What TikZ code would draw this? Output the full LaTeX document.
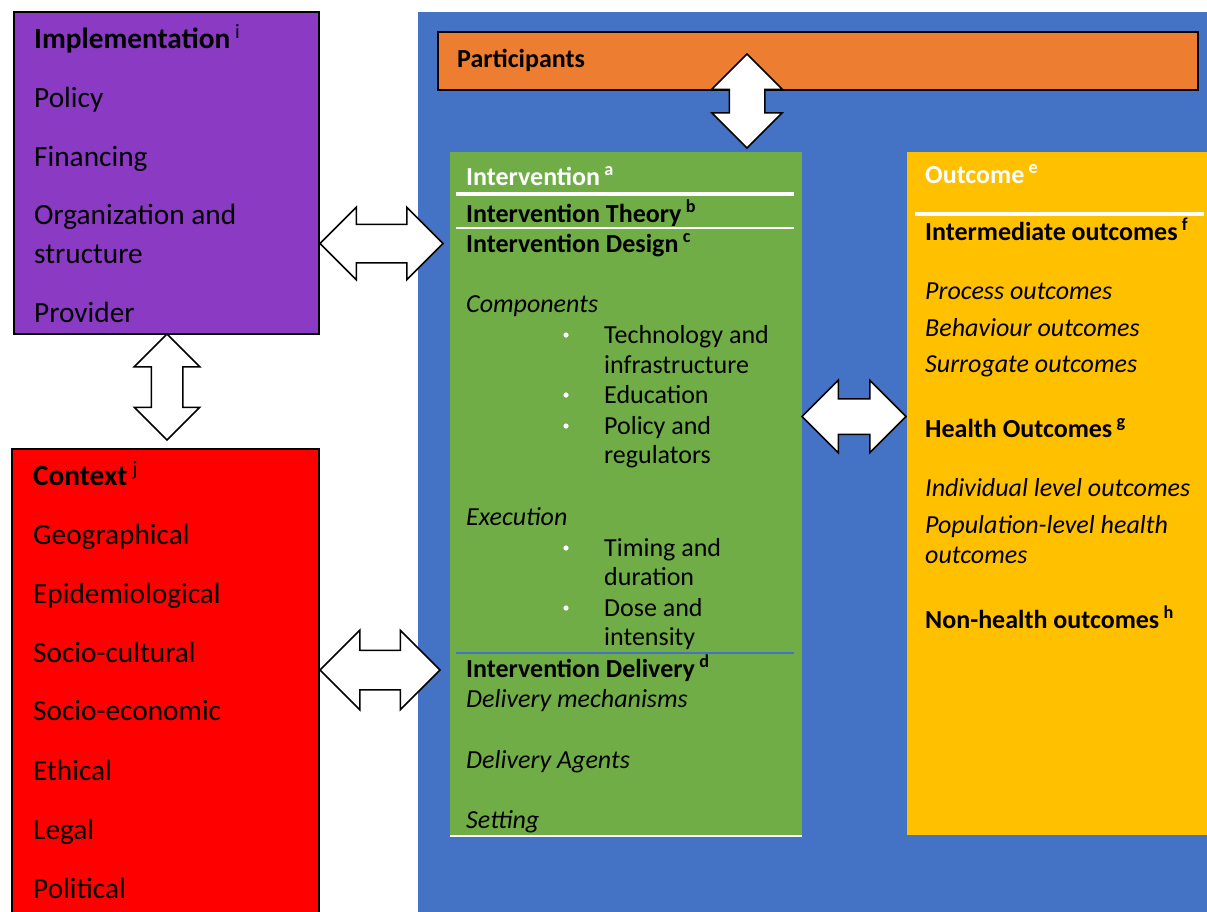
\documentclass[tikz,border=0pt]{standalone}
\usepackage{fontspec}
\setmainfont{Carlito}
\usetikzlibrary{shapes.arrows}

\definecolor{implpurple}{RGB}{139,58,196}
\definecolor{ctxred}{RGB}{255,0,0}
\definecolor{mainblue}{RGB}{68,114,196}
\definecolor{partorange}{RGB}{237,125,49}
\definecolor{intgreen}{RGB}{112,173,71}
\definecolor{outyellow}{RGB}{255,192,0}

\tikzset{
    panel/.style={draw=black, line width=2pt, anchor=north west, inner sep=0pt},
    plain/.style={anchor=north west, inner sep=0pt},
    big/.style={anchor=base west, inner sep=0pt, font=\fontsize{29.3}{34}\selectfont},
    small/.style={anchor=base west, inner sep=0pt, font=\fontsize{26}{30}\selectfont},
    twoway/.style={double arrow, draw=black, fill=white, line width=1.5pt, inner xsep=0pt, double arrow tip angle=90}
}

\begin{document}
\begin{tikzpicture}[x=1pt,y=-1pt]
    \useasboundingbox (0,0) rectangle (1207,911);
    %blue frame and the boxes
    \node[plain, fill=mainblue, minimum width=792, minimum height=910] (frame) at (418,12) {};
    \node[panel, fill=implpurple, minimum width=305, minimum height=322] (impl) at (13,11) {};
    \node[panel, fill=ctxred, minimum width=307, minimum height=480] (ctx) at (11,448) {};
    \node[panel, fill=partorange, minimum width=760, minimum height=58] (part) at (437,31) {};
    \node[plain, fill=intgreen, minimum width=352, minimum height=684] (interv) at (450,152) {};
    \node[plain, fill=outyellow, minimum width=305, minimum height=683] (outc) at (907,152) {};

    %rules inside intervention and outcome
    \draw[white, line width=4.5pt] (456,194) -- (794,194);
    \draw[white, line width=1.2pt] (456,228) -- (794,228);
    \draw[mainblue, line width=1.2pt] (456,653) -- (794,653);
    \draw[white, line width=1.5pt] (450,836) -- (802,836);
    \draw[white, line width=4pt] (915,214) -- (1204,214);

    %implementation
    \node[big] (implhead) at (34,48) {\bfseries Implementation\,\textsuperscript{\normalfont i}};
    \foreach \y/\t [count=\i] in {107/Policy, 166/Financing, 224/Organization and, 263/structure, 322/Provider}
        \node[big] (impl\i) at (34,\y) {\t};

    %context
    \node[big] (ctxhead) at (33,485) {\bfseries Context\,\textsuperscript{\normalfont j}};
    \foreach \y/\t [count=\i] in {544/Geographical, 603/Epidemiological, 662/Socio-cultural, 720/Socio-economic, 780/Ethical, 839/Legal, 898/Political}
        \node[big] (ctx\i) at (33,\y) {\t};

    %participants
    \node[small] (parthead) at (457,67) {\bfseries Participants};

    %intervention
    \node[small, text=white] (intervhead) at (466,185) {\bfseries Intervention\,\textsuperscript{a}};
    \node[small] (theory) at (466,222) {\bfseries Intervention Theory\,\textsuperscript{b}};
    \node[small] (design) at (466,252) {\bfseries Intervention Design\,\textsuperscript{c}};
    \node[small] (comp) at (466,312) {\itshape Components};
    \node[small] (exec) at (466,525) {\itshape Execution};
    \foreach \y/\t [count=\i] in {343/Technology and, 373/infrastructure, 403/Education, 434/Policy and, 463/regulators, 556/Timing and, 585/duration, 616/Dose and, 645/intensity}
        \node[small] (item\i) at (604,\y) {\t};
    \foreach \y in {343, 403, 434, 556, 616}
        \fill[white] (566,\y-8) circle (2.6);
    \node[small] (delivery) at (466,677) {\bfseries Intervention Delivery\,\textsuperscript{d}};
    \foreach \y/\t [count=\i] in {707/Delivery mechanisms, 768/Delivery Agents, 828/Setting}
        \node[small] (deliv\i) at (466,\y) {\itshape \t};

    %outcome
    \node[small, text=white] (outchead) at (925,183) {\bfseries Outcome\,\textsuperscript{e}};
    \node[small] (interm) at (925,240) {\bfseries Intermediate outcomes\,\textsuperscript{f}};
    \node[small] (health) at (925,437) {\bfseries Health Outcomes\,\textsuperscript{g}};
    \node[small] (nonhealth) at (925,628) {\bfseries Non-health outcomes\,\textsuperscript{h}};
    \foreach \y/\t [count=\i] in {299/Process outcomes, 336/Behaviour outcomes, 372/Surrogate outcomes, 496/Individual level outcomes, 533/Population-level health, 563/outcomes}
        \node[small] (outitem\i) at (925,\y) {\itshape \t};

    %two-way arrows
    \node[twoway, minimum height=123, inner ysep=18.5, double arrow head extend=17] (implinterv) at (381.5,243.5) {};
    \node[twoway, rotate=90, minimum height=106, inner ysep=15, double arrow head extend=17] (implctx) at (167,387) {};
    \node[twoway, minimum height=120, inner ysep=19, double arrow head extend=20] (ctxinterv) at (380,670) {};
    \node[twoway, minimum height=104, inner ysep=17, double arrow head extend=18.5] (intervoutc) at (854,416.5) {};
    \node[twoway, rotate=90, minimum height=94, inner ysep=17, double arrow head extend=17.5] (partinterv) at (747,101) {};
\end{tikzpicture}
\end{document}
